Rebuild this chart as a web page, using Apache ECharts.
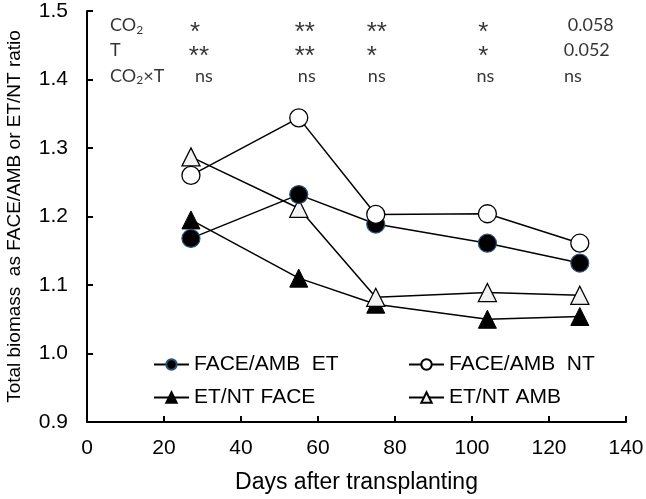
<!DOCTYPE html>
<html>
<head>
<meta charset="utf-8">
<script src="https://cdn.jsdelivr.net/npm/echarts@6/dist/echarts.min.js"></script>
<style>html,body{margin:0;padding:0;background:#fff;}#c{width:646px;height:499px;}</style>
</head>
<body>
<div id="c"></div>
<script>
var days = [27, 55, 75, 104, 128];
var faceAmbET = [1.168, 1.232, 1.189, 1.161, 1.132];
var faceAmbNT = [1.260, 1.344, 1.203, 1.204, 1.161];
var etntFACE = [1.195, 1.110, 1.072, 1.050, 1.054];
var etntAMB = [1.287, 1.212, 1.082, 1.089, 1.085];
var xTicks = [0, 20, 40, 60, 80, 100, 120, 140];
var yTicks = [0.9, 1.0, 1.1, 1.2, 1.3, 1.4, 1.5];
var sigRowNames = ['{n|CO}{s|2}', '{n|T}', '{n|CO}{s|2}{n|×T}'];
var sigCO2 = ['*', '**', '**', '*', '0.058'];
var sigT = ['**', '**', '*', '*', '0.052'];
var sigInter = ['ns', 'ns', 'ns', 'ns', 'ns'];
var sigRowY = [1.479, 1.443, 1.405];
var rowNameX = 6;

// small pixel nudges of the annotation texts (style, not data)
var sigDx = [[4, 6, 1, -4, 11], [8, 6, -4, -4, 7], [13, 8, 1, -2, -7]];

var chart = echarts.init(document.getElementById('c'), null, {renderer: 'canvas'});
var FONT = '"Liberation Sans", Arial, sans-serif';
var HFONT = 'Lato, "Open Sans", sans-serif';

function pair(arr) { return days.map(function (d, i) { return [d, arr[i]]; }); }
function sigData(arr, y, r) {
  return days.map(function (d, i) {
    var t = arr[i];
    var isStar = /^\*+$/.test(t);
    return {value: [d, y], label: isStar ?
      {formatter: t, fontFamily: FONT, fontSize: 26, offset: [sigDx[r][i], 7]} :
      {formatter: t, fontFamily: HFONT, fontSize: 18, offset: [sigDx[r][i], 0]}};
  });
}

var lineCommon = {type: 'line', lineStyle: {color: '#000', width: 1.5}, animation: false, symbolSize: 18};

var sigRich = {n: {fontSize: 18, fontFamily: HFONT, color: '#000'}, s: {fontSize: 12, fontFamily: HFONT, color: '#000', verticalAlign: 'bottom', padding: [9, 0, 0, 0]}};

var series = [
  Object.assign({}, lineCommon, {name: 'ET/NT FACE', data: pair(etntFACE), symbol: 'triangle', z: 2,
    itemStyle: {color: '#000', borderColor: '#000', borderWidth: 1}}),
  Object.assign({}, lineCommon, {name: 'ET/NT AMB', data: pair(etntAMB), symbol: 'triangle', z: 3,
    itemStyle: {color: '#f2f2f2', borderColor: '#000', borderWidth: 1.3}}),
  Object.assign({}, lineCommon, {name: 'FACE/AMB  ET', data: pair(faceAmbET), symbol: 'circle', z: 4,
    itemStyle: {color: '#000', borderColor: '#2d4f7a', borderWidth: 1.2}}),
  Object.assign({}, lineCommon, {name: 'FACE/AMB  NT', data: pair(faceAmbNT), symbol: 'circle', z: 5,
    itemStyle: {color: '#fff', borderColor: '#000', borderWidth: 1.3}})
];

var sigRows = [sigCO2, sigT, sigInter];
sigRows.forEach(function (row, r) {
  series.push({type: 'scatter', symbolSize: 0, silent: true, animation: false, data: sigData(row, sigRowY[r], r),
    label: {show: true, position: 'inside', color: '#000'}});
  series.push({type: 'scatter', symbolSize: 0, silent: true, animation: false,
    data: [{value: [rowNameX, sigRowY[r]]}],
    label: {show: true, position: 'inside', align: 'left', formatter: sigRowNames[r], rich: sigRich, fontSize: 18, fontFamily: HFONT, color: '#000'}});
});

function legendAt(name, left, top) {
  return {data: [name], left: left, top: top, itemWidth: 35, itemHeight: 13, padding: 0,
    textStyle: {fontFamily: FONT, fontSize: 21, color: '#000'}, selectedMode: false};
}

chart.setOption({
  backgroundColor: '#fff',
  animation: false,
  grid: {left: 87, top: 11, width: 539, height: 411, outerBoundsMode: 'none', containLabel: false},
  legend: [
    legendAt('FACE/AMB  ET', 153, 354),
    legendAt('FACE/AMB  NT', 408, 354),
    legendAt('ET/NT FACE', 153, 387),
    legendAt('ET/NT AMB', 408, 387)
  ],
  xAxis: {type: 'value', min: 0, max: 140, interval: 20,
    name: 'Days after transplanting', nameLocation: 'middle', nameGap: 49,
    nameTextStyle: {fontFamily: FONT, fontSize: 23, color: '#000'},
    axisLine: {lineStyle: {color: '#000', width: 2}},
    axisTick: {inside: true, length: 6, lineStyle: {color: '#000', width: 2}},
    axisLabel: {fontFamily: FONT, fontSize: 21, color: '#000', margin: 16,
      formatter: function (v) { return xTicks.indexOf(v) >= 0 ? String(v) : ''; }},
    splitLine: {show: false}},
  yAxis: {type: 'value', min: 0.9, max: 1.5, interval: 0.1,
    name: 'Total biomass  as FACE/AMB or ET/NT ratio', nameLocation: 'middle', nameGap: 63,
    nameTextStyle: {fontFamily: FONT, fontSize: 19, color: '#000'},
    axisLine: {show: true, lineStyle: {color: '#000', width: 2}},
    axisTick: {show: true, inside: true, length: 6, lineStyle: {color: '#000', width: 2}},
    axisLabel: {fontFamily: FONT, fontSize: 21, color: '#000', margin: 19,
      formatter: function (v) { var t = yTicks.reduce(function (a, b) { return Math.abs(b - v) < Math.abs(a - v) ? b : a; }); return t.toFixed(1); }},
    splitLine: {show: false}},
  series: series
});
</script>
</body>
</html>
